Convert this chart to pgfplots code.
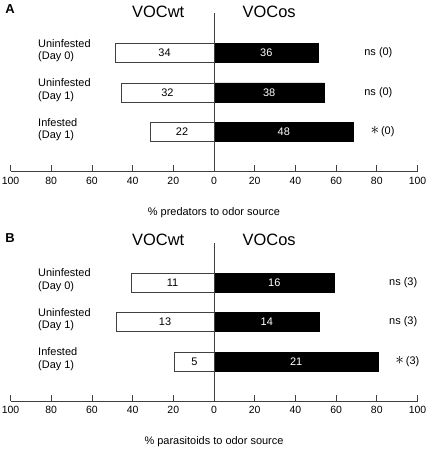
\documentclass[border=0pt]{standalone}
\usepackage{pgfplots}
\pgfplotsset{compat=1.18}
\usepackage{fontspec}
\setmainfont{Liberation Sans}
\definecolor{axgray}{HTML}{404040}
\pgfplotsset{
  panel/.style={
    scale only axis, width=407bp, height=158bp,
    xmin=-100, xmax=100, ymin=0, ymax=4,
    axis x line=bottom, axis y line=none,
    axis line style={-, axgray, line width=0.8bp},
    xtick={-100,-80,...,100},
    xticklabels={100,80,60,40,20,0,20,40,60,80,100},
    tick align=inside, major tick length=6bp,
    tick style={axgray, line width=0.8bp},
    /pgf/number format/assume math mode=true,
    ticklabel style={font=\fontsize{10.5}{12}\selectfont},
    xticklabel style={yshift=-2bp},
    every axis x label/.style={at={(axis description cs:0.5,0)}, anchor=center, yshift=-41bp,
      font=\fontsize{11}{13}\selectfont},
    bar width=19bp, clip=false,
  },
  wt/.style={xbar, bar shift=0pt, fill=white, draw=axgray, line width=0.8bp},
  os/.style={xbar, bar shift=0pt, fill=black, draw=black, line width=0.8bp},
}
\tikzset{
  cat/.style={anchor=west, align=left, font=\fontsize{11}{12.3}\selectfont},
  cnt/.style={font=\fontsize{11}{13}\selectfont},
  ttl/.style={font=\fontsize{16.5}{18}\selectfont},
  ann/.style={anchor=east, font=\fontsize{11}{13}\selectfont},
}
\newcommand{\sig}{{\fontsize{16}{16}\selectfont$\ast$}}
\begin{document}
\begin{tikzpicture}
\path[use as bounding box] (0bp,0bp) rectangle (430bp,451bp);
\node[font=\bfseries\fontsize{13}{14}\selectfont] at (10bp,441.5bp) {A};
\node[font=\bfseries\fontsize{13}{14}\selectfont] at (10bp,213bp) {B};
% Panel A
\begin{axis}[panel, at={(10.5bp,279.5bp)}, anchor=south west,
  xlabel={\% predators to odor source}]
\addplot[wt] coordinates {(-48.571,3) (-45.714,2) (-31.429,1)};
\addplot[os] coordinates {(51.429,3) (54.286,2) (68.571,1)};
\addplot[axgray, line width=0.8bp, no marks] coordinates {(0,0) (0,4)};
\node[cnt] at (axis cs:-24.29,3) {34};
\node[cnt] at (axis cs:-22.86,2) {32};
\node[cnt] at (axis cs:-15.71,1) {22};
\node[cnt,white] at (axis cs:25.71,3) {36};
\node[cnt,white] at (axis cs:27.14,2) {38};
\node[cnt,white] at (axis cs:34.29,1) {48};
\node[ttl] at (axis cs:-27.4,4.04) {VOCwt};
\node[ttl] at (axis cs:27.1,4.04) {VOCos};
\node[cat] at (axis cs:-88.1,3.06) {Uninfested\\(Day 0)};
\node[cat] at (axis cs:-88.1,2.06) {Uninfested\\(Day 1)};
\node[cat] at (axis cs:-88.1,1.06) {Infested\\(Day 1)};
\node[ann] at (axis cs:89.4,3) {ns (0)};
\node[ann] at (axis cs:89.4,2) {ns (0)};
\node[ann] at (axis cs:90.4,1) {\sig\,(0)};
\end{axis}
% Panel B
\begin{axis}[panel, at={(10.5bp,50bp)}, anchor=south west,
  xlabel={\% parasitoids to odor source}]
\addplot[wt] coordinates {(-40.741,3) (-48.148,2) (-19.231,1)};
\addplot[os] coordinates {(59.259,3) (51.852,2) (80.769,1)};
\addplot[axgray, line width=0.8bp, no marks] coordinates {(0,0) (0,4)};
\node[cnt] at (axis cs:-20.37,3) {11};
\node[cnt] at (axis cs:-24.07,2) {13};
\node[cnt] at (axis cs:-9.62,1) {5};
\node[cnt,white] at (axis cs:29.63,3) {16};
\node[cnt,white] at (axis cs:25.93,2) {14};
\node[cnt,white] at (axis cs:40.38,1) {21};
\node[ttl] at (axis cs:-27.4,4.08) {VOCwt};
\node[ttl] at (axis cs:27.1,4.08) {VOCos};
\node[cat] at (axis cs:-88.1,3.06) {Uninfested\\(Day 0)};
\node[cat] at (axis cs:-88.1,2.06) {Uninfested\\(Day 1)};
\node[cat] at (axis cs:-88.1,1.06) {Infested\\(Day 1)};
\node[ann] at (axis cs:101.6,3) {ns (3)};
\node[ann] at (axis cs:101.6,2) {ns (3)};
\node[ann] at (axis cs:102.6,1) {\sig\,(3)};
\end{axis}
\end{tikzpicture}
\end{document}
